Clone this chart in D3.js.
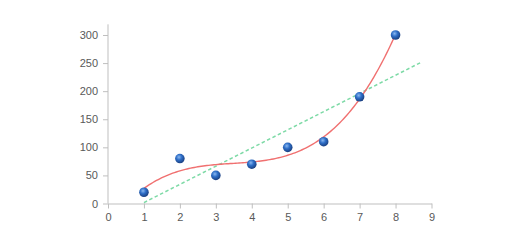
<!DOCTYPE html>
<html><head><meta charset="utf-8">
<script src="https://cdn.jsdelivr.net/npm/d3@7"></script>
<style>body{margin:0;background:#fff}svg{display:block}</style>
</head><body>
<svg id="c" width="516" height="242"></svg>
<script>
const xValues = [1, 2, 3, 4, 5, 6, 7, 8];
const yValues = [20, 80, 50, 70, 100, 110, 190, 300];
const xTicks = [0, 1, 2, 3, 4, 5, 6, 7, 8, 9];
const yTicks = [0, 50, 100, 150, 200, 250, 300];
const linearEnd = 8.7;

const svg = d3.select("#c");
const x = d3.scaleLinear().domain([0, 9]).range([108, 431.5]);
const y = d3.scaleLinear().domain([0, 300]).range([203.5, 35]);
const yTop = y(319);

// least squares polynomial fit (trendlines)
function polyfit(xs, ys, deg) {
  const n = deg + 1;
  const A = Array.from({length: n}, () => new Array(n + 1).fill(0));
  for (let i = 0; i < n; i++) {
    for (let j = 0; j < n; j++) A[i][j] = d3.sum(xs, v => Math.pow(v, i + j));
    A[i][n] = d3.sum(xs, (v, k) => Math.pow(v, i) * ys[k]);
  }
  for (let i = 0; i < n; i++) {
    let p = i;
    for (let r = i + 1; r < n; r++) if (Math.abs(A[r][i]) > Math.abs(A[p][i])) p = r;
    [A[i], A[p]] = [A[p], A[i]];
    for (let r = 0; r < n; r++) {
      if (r === i) continue;
      const f = A[r][i] / A[i][i];
      for (let c = i; c <= n; c++) A[r][c] -= f * A[i][c];
    }
  }
  return A.map((row, i) => row[n] / row[i]);
}
const evalPoly = (c, v) => c.reduce((s, a, i) => s + a * Math.pow(v, i), 0);

const grey = "#bfbfbf";
const font = "11px 'Liberation Sans', Arial, sans-serif";
// axes
const yAxis = d3.axisLeft(y).tickValues(yTicks).tickSize(5).tickPadding(5);
const gy = svg.append("g").attr("transform", `translate(${x(0)},0)`).call(yAxis);
gy.select(".domain").remove();
gy.append("line").attr("x1", 0).attr("x2", 0).attr("y1", yTop).attr("y2", y(0)).attr("stroke", grey);
gy.selectAll(".tick line").attr("stroke", grey);
gy.selectAll("text").attr("fill", "#595959").style("font", font);

const xAxis = d3.axisBottom(x).tickValues(xTicks).tickSize(5).tickPadding(5).tickSizeOuter(0);
const gx = svg.append("g").attr("transform", `translate(0,${y(0)})`).call(xAxis);
gx.select(".domain").attr("stroke", grey);
gx.selectAll(".tick line").attr("stroke", grey);
gx.selectAll("text").attr("fill", "#595959").style("font", font);

// gradient for markers
const defs = svg.append("defs");
const g = defs.append("radialGradient").attr("id", "ball").attr("cx", "40%").attr("cy", "35%").attr("r", "65%");
g.append("stop").attr("offset", "0%").attr("stop-color", "#8ab8f0");
g.append("stop").attr("offset", "45%").attr("stop-color", "#2f6fc8");
g.append("stop").attr("offset", "100%").attr("stop-color", "#1a3f80");

// linear trendline
const lin = polyfit(xValues, yValues, 1);
svg.append("line")
  .attr("x1", x(1)).attr("y1", y(evalPoly(lin, 1)))
  .attr("x2", x(linearEnd)).attr("y2", y(evalPoly(lin, linearEnd)))
  .attr("stroke", "#7ddaa6").attr("stroke-width", 1.5).attr("stroke-dasharray", "3.5,2.5");

// cubic trendline
const cub = polyfit(xValues, yValues, 3);
const samples = d3.range(0, 141).map(i => 1 + i * 7 / 140);
svg.append("path")
  .attr("d", d3.line().x(v => x(v)).y(v => y(evalPoly(cub, v)))(samples))
  .attr("fill", "none").attr("stroke", "#f07070").attr("stroke-width", 1.4);

// points
svg.append("g").selectAll("circle").data(xValues).join("circle")
  .attr("cx", d => x(d)).attr("cy", (d, i) => y(yValues[i])).attr("r", 4.8)
  .attr("fill", "url(#ball)");
</script>
</body></html>
